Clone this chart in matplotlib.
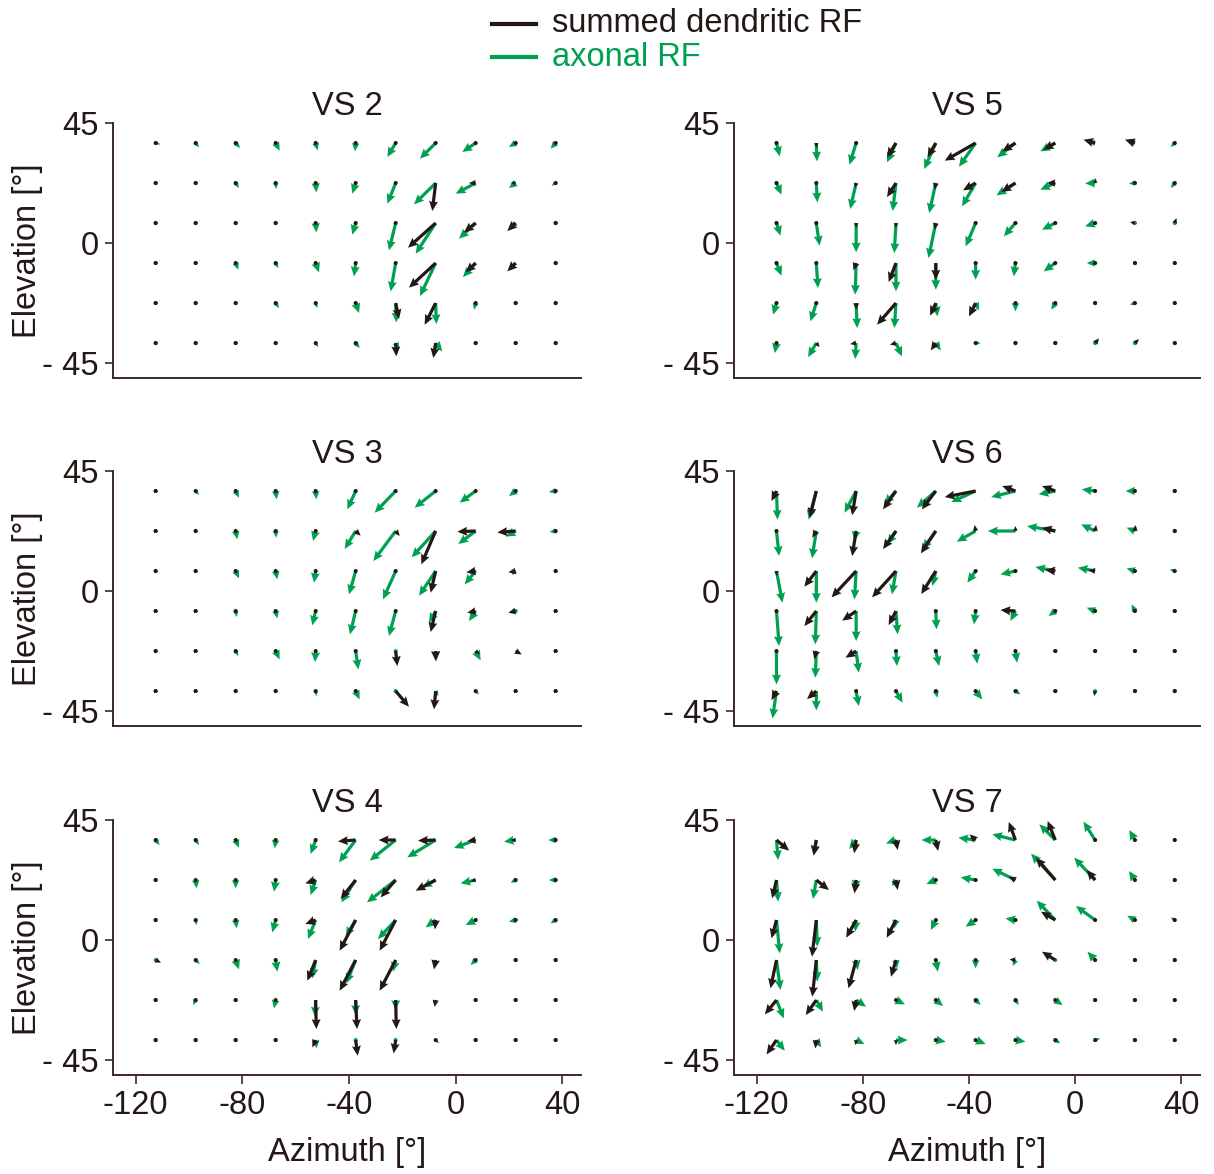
import numpy as np
import matplotlib
matplotlib.use("Agg")
import matplotlib.pyplot as plt
from matplotlib.lines import Line2D

plt.rcParams["font.family"] = ["Liberation Sans", "DejaVu Sans"]

DARK = "#231815"
GREEN = "#00a051"
SPINE = "#3b2a22"
FS = 23.5

# Sampling grid of the receptive-field maps (degrees)
azimuth = [-112.5, -97.5, -82.5, -67.5, -52.5, -37.5, -22.5, -7.5, 7.5, 22.5, 37.5]
elevation = [37.5, 22.5, 7.5, -7.5, -22.5, -37.5]

x_ticks = [-120, -80, -40, 0, 40]
x_ticklabels = ["-120", "-80", "-40", "0", "40"]
y_ticks = [45, 0, -45]
y_ticklabels = ["45", "0", "- 45"]

# Local motion vectors (u, v) per grid point, rows from top elevation to bottom
vs2_dendritic = [
    [(2, 0), (3, -3), (4, -4), (4, -6), (2, -6), (0, -4), (-3, -5), (-5, -5), (-6, -3), (-5, -3), (-3, -3)],
    [(2, -3), (2, -3), (3, -5), (0, -5), (0, -10), (-2, -5), (-3, -5), (-10, -84), (-20, 0), (-15, 0), (-3, 0)],
    [(1, 0), (1, 0), (2, -2), (1, -4), (0, -12), (-2, -10), (-2, -8), (-83, -74), (-35, -28), (-25, -24), (-3, -2)],
    [(0, 0), (0, 0), (2, -8), (2, -5), (6, -10), (0, -10), (0, -12), (-80, -74), (-30, -28), (-25, -25), (0, -4)],
    [(1, 0), (0, -3), (2, -2), (3, -5), (2, -5), (2, -10), (10, -48), (-33, -65), (2, -2), (6, -2), (0, -2)],
    [(8, -8), (-2, -10), (1, 0), (3, -3), (3, -3), (3, -3), (2, -40), (-7, -45), (2, 0), (0, 0), (3, -3)],
]
vs2_axonal = [
    [(14, -4), (10, -13), (13, -15), (12, -23), (6, -22), (-2, -25), (-25, -42), (-47, -47), (-40, -27), (-20, -12), (-15, -17)],
    [(2, -2), (8, -8), (10, -15), (2, -18), (2, -28), (-10, -32), (-25, -62), (-65, -64), (-60, -32), (-20, -15), (-12, -8)],
    [(6, -2), (3, 1), (8, -5), (4, -12), (2, -28), (-10, -35), (-20, -82), (-60, -92), (-50, -47), (-15, -14), (-8, -8)],
    [(8, 0), (5, 0), (8, -20), (8, -15), (10, -28), (-5, -40), (-15, -85), (-47, -99), (-38, -42), (-10, -10), (-2, -12)],
    [(1, 0), (2, -8), (5, -5), (10, -15), (5, -15), (10, -30), (2, -58), (2, -63), (-5, -20), (3, 0), (0, -8)],
    [(5, -5), (0, 0), (0, 0), (8, -10), (8, -12), (12, -15), (10, -20), (20, -25), (8, -8), (0, 0), (1, -1)],
]

vs5_dendritic = [
    [(3, -8), (0, -15), (-3, -10), (-27, -43), (-25, -43), (-93, -53), (-40, -25), (-35, -20), (-35, 10), (-30, 10), (-3, -3)],
    [(3, -5), (0, -10), (-3, -15), (-27, -42), (-3, -20), (-38, -22), (-42, -27), (-25, 0), (2, 14), (2, 12), (-3, -3)],
    [(2, -5), (2, -10), (0, -15), (0, -15), (-3, -20), (-5, -10), (-5, -5), (-10, -3), (-5, 0), (-15, 3), (5, 15)],
    [(3, -5), (0, -8), (-8, -22), (-22, -57), (0, -50), (0, -10), (0, -8), (-5, -3), (-5, 0), (-3, 2), (2, 8)],
    [(-3, -8), (-3, -10), (0, -20), (-57, -65), (-17, -38), (-20, -40), (-2, -5), (-8, 0), (-5, -2), (-2, 0), (-2, 0)],
    [(0, -8), (10, -12), (-18, -3), (-18, -5), (-15, -22), (-12, -3), (5, -3), (-3, 0), (12, 14), (12, 12), (0, 10)],
]
vs5_axonal = [
    [(10, -40), (2, -55), (-20, -65), (-27, -58), (-35, -78), (-50, -71), (-55, -43), (-45, -25), (-20, 2), (-20, 5), (-12, -12)],
    [(15, -35), (3, -58), (-18, -78), (-10, -84), (-20, -90), (-41, -70), (-57, -37), (-45, -20), (-30, -1), (-18, -2), (-12, -15)],
    [(12, -38), (10, -68), (0, -88), (-5, -90), (-22, -105), (-30, -70), (-35, -40), (-40, -20), (-30, -10), (-10, 2), (2, 5)],
    [(15, -38), (5, -75), (-3, -95), (0, -85), (0, -80), (0, -50), (-5, -40), (-35, -25), (-25, 0), (-8, 8), (-8, 0)],
    [(-10, -35), (-18, -55), (3, -75), (-5, -75), (5, -40), (10, -22), (0, -25), (-12, -20), (-5, -3), (-15, -5), (-8, 0)],
    [(-5, -30), (-25, -42), (-3, -48), (18, -40), (15, -22), (15, 0), (8, -8), (0, -10), (5, 5), (5, 5), (0, 5)],
]

vs3_dendritic = [
    [(2, 0), (2, -2), (2, -5), (0, -8), (0, -8), (-3, -8), (-5, -5), (-5, -4), (-5, -3), (-3, -2), (-3, 0)],
    [(0, 0), (2, -2), (0, -8), (0, -8), (-2, -5), (15, -14), (12, -15), (-43, -100), (-55, -2), (-55, -4), (-3, 0)],
    [(2, -2), (2, -2), (3, -5), (0, -5), (0, -8), (-2, -8), (-3, -8), (-15, -65), (-28, -4), (-22, -4), (-2, 0)],
    [(0, 0), (0, 0), (0, -5), (-10, 0), (-2, -8), (-2, -10), (-2, -10), (-15, -63), (-25, -5), (-22, -5), (0, 0)],
    [(8, -2), (2, 0), (2, -3), (3, -8), (-5, -5), (0, -10), (5, -45), (0, -30), (12, -10), (18, -10), (0, 0)],
    [(0, 0), (0, 0), (0, -3), (0, -3), (0, -3), (3, -5), (40, -47), (-5, -55), (3, -2), (5, 0), (0, 0)],
]
vs3_axonal = [
    [(2, 0), (10, -12), (10, -20), (3, -25), (2, -25), (-25, -55), (-63, -65), (-63, -50), (-48, -35), (-20, -15), (-20, -3)],
    [(8, 0), (6, -4), (5, -25), (2, -20), (-8, -30), (-33, -54), (-67, -90), (-72, -79), (-52, -39), (-30, -17), (-18, -3)],
    [(10, -8), (8, -8), (10, -22), (5, -25), (-5, -35), (-20, -70), (-38, -85), (-50, -74), (-33, -40), (-12, -12), (-10, -5)],
    [(5, -8), (2, -4), (3, -18), (5, -22), (-10, -43), (-17, -70), (-20, -75), (-20, -35), (-20, -30), (-5, -5), (-5, -8)],
    [(10, -3), (2, 0), (8, -15), (12, -25), (-2, -33), (8, -55), (0, -5), (2, -30), (15, -28), (15, -10), (0, 0)],
    [(0, 0), (0, 0), (0, -5), (2, -10), (3, -15), (12, -25), (3, -3), (8, -15), (10, -10), (0, 0), (0, 0)],
]

vs6_dendritic = [
    [(-15, -30), (-20, -80), (-12, -73), (-39, -55), (-42, -55), (-93, -18), (-40, 15), (-40, 15), (-5, 0), (-3, 3), (-3, 5)],
    [(-3, -10), (-12, -20), (-12, -75), (-39, -54), (-45, -67), (-3, 18), (0, 15), (-40, 10), (3, 18), (2, 18), (0, 5)],
    [(0, -15), (-36, -47), (-74, -79), (-72, -79), (-44, -69), (-3, -5), (-5, -2), (-30, 3), (-20, 3), (-10, 2), (-5, 2)],
    [(0, -10), (-36, -45), (-42, -29), (-22, -42), (0, -5), (-5, 5), (-45, 3), (-10, 5), (-5, 0), (0, 5), (-3, 0)],
    [(0, -10), (-6, -25), (-32, -20), (-5, -10), (2, -10), (0, -5), (0, -5), (0, 0), (0, 0), (0, 0), (5, -10)],
    [(-15, -27), (-28, -24), (0, -10), (5, -8), (-10, 0), (0, -5), (0, 0), (3, 0), (-3, -15), (0, -5), (0, -10)],
]
vs6_axonal = [
    [(3, -86), (-23, -86), (-35, -65), (-35, -40), (-57, -50), (-73, -33), (-73, -18), (-50, -10), (-40, 5), (-28, 0), (2, -10)],
    [(8, -75), (-13, -82), (-5, -30), (-25, -40), (-40, -55), (-57, -32), (-83, 0), (-85, 15), (-42, 20), (-25, 10), (0, -10)],
    [(18, -95), (0, -95), (-5, -85), (-12, -70), (-10, -45), (-25, -35), (-45, -10), (-60, 12), (-52, 10), (-25, 8), (-15, 5)],
    [(8, -105), (-3, -100), (0, -90), (5, -70), (2, -55), (-5, -40), (-15, -30), (-20, -15), (-25, 10), (-10, 20), (-10, 0)],
    [(0, -100), (-3, -80), (8, -65), (3, -45), (10, -45), (5, -38), (5, -35), (0, 0), (0, -10), (5, -12), (3, -5)],
    [(-12, -82), (0, -58), (8, -45), (20, -35), (5, -20), (20, -25), (15, -10), (10, -5), (0, 0), (0, 0), (0, -5)],
]

vs4_dendritic = [
    [(3, -5), (2, -4), (2, -5), (-2, -8), (-3, -8), (-53, -4), (-51, 0), (-53, -2), (-25, -3), (-15, 0), (-5, -3)],
    [(2, -2), (0, -8), (0, -8), (0, -5), (-31, -10), (-45, -57), (-45, -52), (-60, -32), (-15, -3), (-8, -3), (-5, 0)],
    [(0, -2), (-5, 5), (-12, 0), (-12, 0), (-31, -12), (-48, -92), (-48, -92), (-2, -28), (-5, 0), (-3, 0), (-3, -3)],
    [(16, -8), (8, -5), (5, -8), (5, -10), (-25, -62), (-48, -92), (-48, -92), (-5, -28), (-3, -3), (-8, 0), (-2, -2)],
    [(2, -5), (-2, -3), (-3, -8), (0, -10), (2, -87), (4, -87), (2, -87), (-3, -20), (0, 0), (0, 0), (0, 0)],
    [(0, -3), (0, 3), (0, 0), (0, 0), (-10, -22), (6, -47), (-6, -40), (0, 0), (0, 0), (0, 0), (0, 0)],
]
vs4_axonal = [
    [(12, -15), (10, -15), (10, -23), (-3, -25), (-15, -42), (-50, -67), (-78, -62), (-85, -52), (-65, -24), (-35, -5), (-22, 0)],
    [(8, -8), (3, -25), (0, -25), (-5, -35), (-15, -45), (-43, -67), (-86, -67), (-40, -22), (-45, -10), (-15, -8), (-20, 0)],
    [(3, -10), (3, -15), (3, -25), (-10, -37), (-23, -57), (-30, -50), (-53, -57), (-30, -22), (-30, -15), (-20, -5), (-15, -10)],
    [(10, -5), (12, -12), (10, -28), (5, -35), (-10, -55), (-28, -70), (-8, -35), (-3, -25), (-15, -15), (-5, -2), (-8, -8)],
    [(2, -5), (-8, -15), (-3, -8), (-5, -25), (-2, -50), (0, -45), (0, -30), (-3, -20), (-5, -12), (0, 0), (0, 0)],
    [(-5, -10), (-10, -5), (-5, 3), (2, -10), (3, -25), (0, -5), (3, -10), (10, -10), (3, -8), (0, 0), (3, -5)],
]

vs7_dendritic = [
    [(38, -32), (-8, -47), (-6, -40), (5, -30), (7, -33), (-18, 17), (-20, 54), (-23, 57), (-5, 8), (-3, 5), (3, 5)],
    [(-13, -55), (38, -30), (-5, -40), (5, -30), (-5, -3), (-10, 3), (-20, 10), (-58, 67), (-25, 30), (-5, 5), (-3, 2)],
    [(-15, -55), (-13, -110), (-30, -53), (-28, -53), (-3, -5), (-5, -2), (-8, 2), (-43, 25), (-10, 8), (-5, 0), (-3, 0)],
    [(-18, -85), (-12, -110), (-23, -85), (-15, -50), (2, -12), (-12, 3), (-18, 2), (-40, 25), (-5, 5), (-2, 2), (0, 2)],
    [(-35, -43), (-32, -45), (-6, -33), (3, -2), (3, -3), (2, -3), (2, -3), (3, -2), (3, -5), (2, -10), (2, -8)],
    [(-30, -43), (-3, -25), (-2, -15), (0, -15), (5, -2), (5, -2), (5, 0), (5, -5), (5, -5), (-2, 12), (0, 12)],
]
vs7_axonal = [
    [(5, -60), (-8, -45), (-21, -27), (-30, -10), (-43, 0), (-52, 7), (-70, 17), (-48, 47), (-35, 55), (-17, 30), (0, 0)],
    [(5, -65), (-10, -57), (-3, -30), (-12, -18), (-28, -12), (-45, 8), (-70, 34), (-73, 79), (-63, 67), (-18, 27), (-10, 8)],
    [(10, -100), (3, -80), (-3, -35), (-5, -25), (-15, -30), (-30, -20), (-30, 5), (-56, 58), (-58, 42), (-23, 13), (-12, 8)],
    [(12, -90), (3, -65), (5, -30), (3, -25), (6, -35), (0, -25), (-8, -18), (-5, 3), (-23, 25), (-10, 8), (-8, 0)],
    [(22, -55), (20, -35), (30, -20), (27, -13), (22, -18), (15, -15), (10, -15), (22, -15), (5, -8), (-3, 5), (0, 0)],
    [(25, -32), (15, -22), (25, -12), (35, 0), (30, -5), (30, -12), (30, -5), (15, -10), (15, 5), (0, 0), (0, 0)],
]

panels = [
    ("VS 2", vs2_dendritic, vs2_axonal),
    ("VS 5", vs5_dendritic, vs5_axonal),
    ("VS 3", vs3_dendritic, vs3_axonal),
    ("VS 6", vs6_dendritic, vs6_axonal),
    ("VS 4", vs4_dendritic, vs4_axonal),
    ("VS 7", vs7_dendritic, vs7_axonal),
]

W, H = 1214, 1174
fig = plt.figure(figsize=(W / 100, H / 100), dpi=100)

col_x = [113, 734]
col_w = [468, 466]
row_top = [123, 471, 820]
row_h = 255

X, Y = np.meshgrid(azimuth, elevation)
qkw = dict(angles="xy", scale_units="xy", scale=8, pivot="tail", units="dots",
           width=3.2, headwidth=2.8, headlength=3.1, headaxislength=2.8, minlength=1.4)

for k, (name, dend, axon) in enumerate(panels):
    r, c = divmod(k, 2)
    ax = fig.add_axes([col_x[c] / W, 1 - (row_top[r] + row_h) / H, col_w[c] / W, row_h / H])
    d = np.array(dend, dtype=float)
    a = np.array(axon, dtype=float)
    ax.quiver(X, Y, a[..., 0], a[..., 1], color=GREEN, zorder=2, **qkw)
    ax.quiver(X, Y, d[..., 0], d[..., 1], color=DARK, zorder=3, **qkw)

    ax.set_xlim(-128.5, 47)
    ax.set_ylim(-50.6, 45)
    for s in ("top", "right"):
        ax.spines[s].set_visible(False)
    for s in ("left", "bottom"):
        ax.spines[s].set_color(SPINE)
        ax.spines[s].set_linewidth(1.4)

    ax.set_yticks(y_ticks)
    ax.set_yticklabels(y_ticklabels)
    ax.tick_params(axis="y", length=5.5, width=1.2, color=SPINE, pad=5,
                   labelsize=FS, labelcolor=DARK)
    if r == 2:
        ax.set_xticks(x_ticks)
        ax.set_xticklabels(x_ticklabels)
        ax.tick_params(axis="x", length=6.5, width=1.2, color=SPINE, pad=4,
                       labelsize=FS, labelcolor=DARK)
        ax.set_xlabel("Azimuth [°]", fontsize=FS, color=DARK, labelpad=12)
    else:
        ax.set_xticks([])
    if c == 0:
        ax.set_ylabel("Elevation [°]", fontsize=FS, color=DARK, labelpad=-1)
    ax.set_title(name, fontsize=FS, color=DARK, pad=6)

# Legend drawn at the top of the figure
for yy, label, col in ((24, "summed dendritic RF", DARK), (57, "axonal RF", GREEN)):
    fig.add_artist(Line2D([492 / W, 536 / W], [1 - yy / H, 1 - yy / H],
                          transform=fig.transFigure, color=col, lw=3))
    fig.text(552 / W, 1 - yy / H, label, fontsize=FS, color=col, va="center", ha="left")

fig.savefig("out.png", dpi=100)
